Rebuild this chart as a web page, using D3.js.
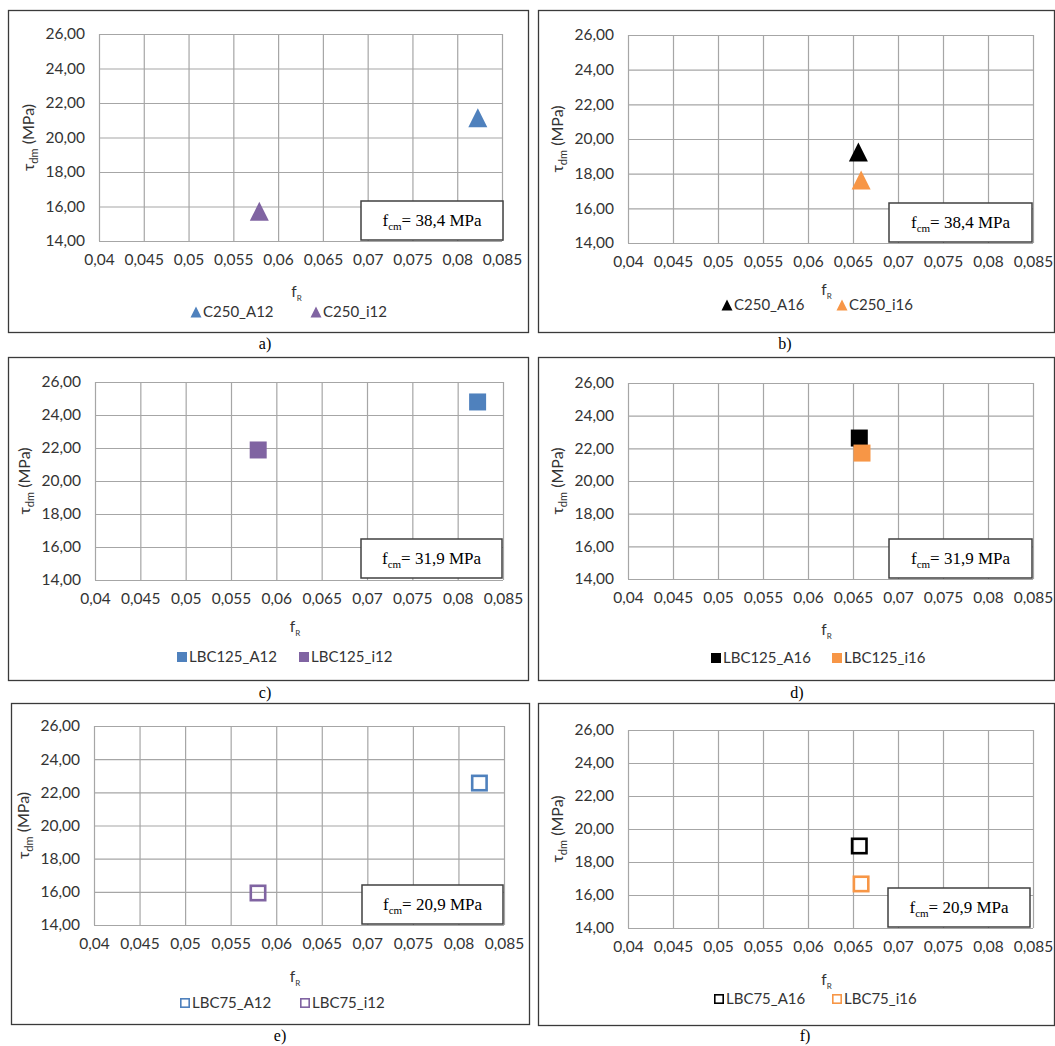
<!DOCTYPE html>
<html>
<head>
<meta charset="utf-8">
<script src="https://cdn.jsdelivr.net/npm/d3@7"></script>
<style>
  html, body { margin: 0; padding: 0; background: #fff; }
  svg { display: block; }
</style>
</head>
<body>
<svg id="chart" width="1055" height="1046"></svg>
<script>
// ---------------- DATA ----------------
const xTickValues = [0.04, 0.045, 0.05, 0.055, 0.06, 0.065, 0.07, 0.075, 0.08, 0.085];
const xTickLabels = ["0,04", "0,045", "0,05", "0,055", "0,06", "0,065", "0,07", "0,075", "0,08", "0,085"];
const yTickValues = [14, 16, 18, 20, 22, 24, 26];
const yTickLabels = ["14,00", "16,00", "18,00", "20,00", "22,00", "24,00", "26,00"];

const panelA_names = ["C250_A12", "C250_i12"];
const panelA_fR    = [0.0823, 0.0579];
const panelA_tau   = [21.15, 15.72];

const panelB_names = ["C250_A16", "C250_i16"];
const panelB_fR    = [0.0656, 0.0659];
const panelB_tau   = [19.25, 17.63];

const panelC_names = ["LBC125_A12", "LBC125_i12"];
const panelC_fR    = [0.0822, 0.0580];
const panelC_tau   = [24.79, 21.88];

const panelD_names = ["LBC125_A16", "LBC125_i16"];
const panelD_fR    = [0.0657, 0.0660];
const panelD_tau   = [22.63, 21.71];

const panelE_names = ["LBC75_A12", "LBC75_i12"];
const panelE_fR    = [0.0823, 0.0580];
const panelE_tau   = [22.56, 15.93];

const panelF_names = ["LBC75_A16", "LBC75_i16"];
const panelF_fR    = [0.0657, 0.0659];
const panelF_tau   = [18.97, 16.67];

const fcmValues = ["38,4", "38,4", "31,9", "31,9", "20,9", "20,9"];
const captions  = ["a)", "b)", "c)", "d)", "e)", "f)"];

// ---------------- STYLE / LAYOUT ----------------
const C = { blue: "#4F81BD", purple: "#8064A2", orange: "#F79646", black: "#000000" };
const panelStyle = [
  { shape: "tri",  colors: [C.blue, C.purple] },
  { shape: "tri",  colors: [C.black, C.orange] },
  { shape: "sq",   colors: [C.blue, C.purple] },
  { shape: "sq",   colors: [C.black, C.orange] },
  { shape: "hsq",  colors: [C.blue, C.purple] },
  { shape: "hsq",  colors: [C.black, C.orange] }
];
const layout = [
  { frame: [8, 10, 528, 332],   plot: [99, 34, 502, 241],   box: [361, 201, 503, 240], fRy: 292, legY: 312, legX: [196, 316], cap: [265, 343] },
  { frame: [538, 10, 1054, 332], plot: [628, 35, 1033, 243], box: [889, 203, 1032, 242], fRy: 290, legY: 305, legX: [727, 842], cap: [785, 343] },
  { frame: [8, 357, 528, 680],  plot: [95, 382, 503, 580],  box: [361, 539, 502, 578], fRy: 627, legY: 657, legX: [182, 304], cap: [265, 692] },
  { frame: [538, 357, 1054, 680], plot: [628, 383, 1033, 579], box: [889, 539, 1032, 578], fRy: 630, legY: 658, legX: [716, 837], cap: [797, 692] },
  { frame: [11, 703, 529, 1024], plot: [94, 726, 504, 925],  box: [362, 885, 503, 924], fRy: 977, legY: 1003, legX: [185, 305], cap: [280, 1035] },
  { frame: [538, 703, 1054, 1025], plot: [628, 730, 1033, 928], box: [888, 888, 1030, 927], fRy: 980, legY: 999, legX: [719, 837], cap: [805, 1035] }
];

const panelsData = [
  [panelA_names, panelA_fR, panelA_tau],
  [panelB_names, panelB_fR, panelB_tau],
  [panelC_names, panelC_fR, panelC_tau],
  [panelD_names, panelD_fR, panelD_tau],
  [panelE_names, panelE_fR, panelE_tau],
  [panelF_names, panelF_fR, panelF_tau]
];

const sansFont = "Lato, 'Open Sans', sans-serif";
const serifFont = "'Liberation Serif', 'Times New Roman', serif";
const gridColor = "#a6a6a6";
const textColor = "#333333";

const svg = d3.select("#chart");

function drawMarker(g, shape, color, cx, cy, size) {
  if (shape === "tri") {
    const h = size, w = size;
    g.append("path")
      .attr("d", `M${cx},${cy - h / 2} L${cx + w / 2},${cy + h / 2} L${cx - w / 2},${cy + h / 2} Z`)
      .attr("fill", color);
  } else if (shape === "sq") {
    g.append("rect").attr("x", cx - size / 2).attr("y", cy - size / 2)
      .attr("width", size).attr("height", size).attr("fill", color);
  } else {
    const sw = size > 12 ? 2.6 : 1.6;
    g.append("rect").attr("x", cx - size / 2 + sw / 2).attr("y", cy - size / 2 + sw / 2)
      .attr("width", size - sw).attr("height", size - sw)
      .attr("fill", "none").attr("stroke", color).attr("stroke-width", sw);
  }
}

panelsData.forEach(([names, fR, tau], i) => {
  const L = layout[i];
  const st = panelStyle[i];
  const g = svg.append("g");

  // frame
  g.append("rect")
    .attr("x", L.frame[0] + 0.5).attr("y", L.frame[1] + 0.5)
    .attr("width", L.frame[2] - L.frame[0]).attr("height", L.frame[3] - L.frame[1])
    .attr("fill", "#fff").attr("stroke", "#3a3a3a").attr("stroke-width", 1.3);

  const x = d3.scaleLinear().domain([0.04, 0.085]).range([L.plot[0], L.plot[2]]);
  const y = d3.scaleLinear().domain([14, 26]).range([L.plot[3], L.plot[1]]);

  // grid (vertical) + x tick labels
  const xAxis = d3.axisBottom(x).tickValues(xTickValues)
    .tickSize(-(L.plot[3] - L.plot[1])).tickFormat((d, k) => xTickLabels[k]).tickPadding(14);
  const gx = g.append("g").attr("transform", `translate(0,${L.plot[3]})`).call(xAxis);
  gx.select(".domain").remove();
  gx.selectAll(".tick line").attr("stroke", gridColor).attr("stroke-width", 1.2);
  gx.selectAll(".tick text").attr("font-family", sansFont).attr("font-size", 15.5)
    .attr("fill", textColor).attr("dy", "0.66em");

  // grid (horizontal) + y tick labels
  const yAxis = d3.axisLeft(y).tickValues(yTickValues)
    .tickSize(-(L.plot[2] - L.plot[0])).tickFormat((d, k) => yTickLabels[k]).tickPadding(14);
  const gy = g.append("g").attr("transform", `translate(${L.plot[0]},0)`).call(yAxis);
  gy.select(".domain").remove();
  gy.selectAll(".tick line").attr("stroke", gridColor).attr("stroke-width", 1.2);
  gy.selectAll(".tick text").attr("font-family", sansFont).attr("font-size", 15.5)
    .attr("fill", textColor);

  // y axis title
  const ty = g.append("text")
    .attr("transform", `translate(${L.plot[0] - 71},${(L.plot[1] + L.plot[3]) / 2}) rotate(-90)`)
    .attr("text-anchor", "middle").attr("dy", "0.35em")
    .attr("font-family", sansFont).attr("font-size", 16).attr("fill", textColor);
  ty.append("tspan").text("τ");
  ty.append("tspan").attr("font-size", 11).attr("dy", 4).text("dm");
  ty.append("tspan").attr("dy", -4).text(" (MPa)");

  // x axis title
  const tx = g.append("text")
    .attr("x", (L.plot[0] + L.plot[2]) / 2 - 4).attr("y", L.fRy)
    .attr("text-anchor", "middle").attr("dy", "0.35em")
    .attr("font-family", sansFont).attr("font-size", 15.5).attr("fill", textColor);
  tx.append("tspan").text("f");
  tx.append("tspan").attr("font-size", 8).attr("dy", 4).text("R");

  // annotation box
  g.append("rect")
    .attr("x", L.box[0]).attr("y", L.box[1])
    .attr("width", L.box[2] - L.box[0]).attr("height", L.box[3] - L.box[1])
    .attr("fill", "#fff").attr("stroke", "#404040").attr("stroke-width", 1.5);
  const ta = g.append("text")
    .attr("x", (L.box[0] + L.box[2]) / 2).attr("y", (L.box[1] + L.box[3]) / 2)
    .attr("text-anchor", "middle").attr("dy", "0.33em")
    .attr("font-family", serifFont).attr("font-size", 17).attr("fill", "#000");
  ta.append("tspan").text("f");
  ta.append("tspan").attr("font-size", 11).attr("dy", 4).text("cm");
  ta.append("tspan").attr("dy", -4).text("= " + fcmValues[i] + " MPa");

  // data markers
  const mg = g.append("g");
  names.forEach((n, k) => {
    const size = st.shape === "tri" ? 19 : 17;
    drawMarker(mg, st.shape, st.colors[k], x(fR[k]), y(tau[k]), size);
  });

  // legend
  names.forEach((n, k) => {
    const lx = L.legX[k];
    const lsize = st.shape === "tri" ? 11 : 10;
    drawMarker(g, st.shape, st.colors[k], lx, L.legY, lsize);
    g.append("text").attr("x", lx + 7).attr("y", L.legY).attr("dy", "0.35em")
      .attr("font-family", sansFont).attr("font-size", 15).attr("fill", textColor)
      .text(n);
  });

  // caption
  g.append("text").attr("x", L.cap[0]).attr("y", L.cap[1]).attr("dy", "0.35em")
    .attr("text-anchor", "middle").attr("font-family", serifFont).attr("font-size", 16)
    .attr("fill", "#000").text(captions[i]);
});
</script>
</body>
</html>
